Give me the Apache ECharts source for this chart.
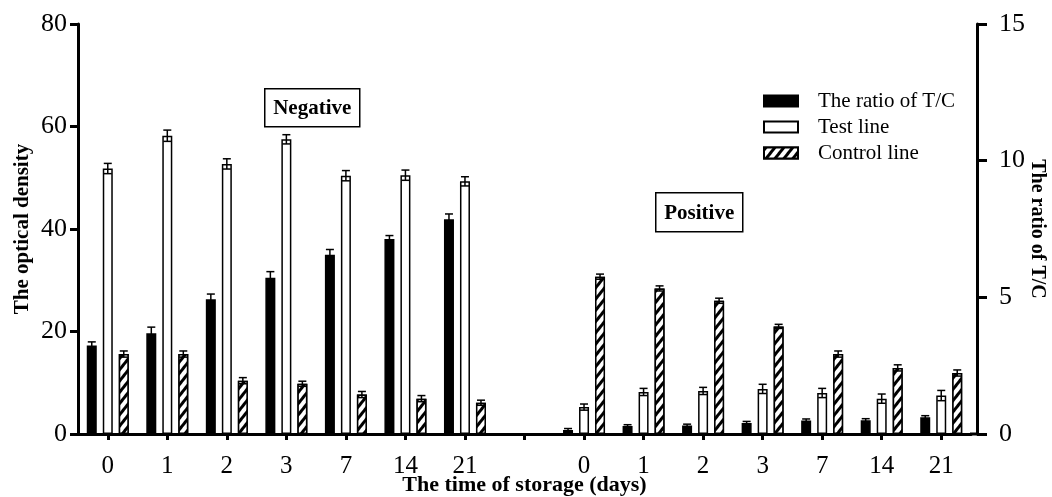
<!DOCTYPE html>
<html>
<head>
<meta charset="utf-8">
<script src="https://cdn.jsdelivr.net/npm/echarts@6/dist/echarts.min.js"></script>
<style>
  html, body { margin: 0; padding: 0; background: #fff; }
  #chart { width: 1052px; height: 497px; }
</style>
</head>
<body>
<div id="chart"></div>
<script>
const categories = ['0', '1', '2', '3', '7', '14', '21', '', '0', '1', '2', '3', '7', '14', '21'];

const ratioNeg = [3.24, 3.69, 4.93, 5.72, 6.56, 7.13, 7.86];
const ratioNegErr = [0.13, 0.22, 0.19, 0.22, 0.19, 0.13, 0.19];
const ratioPos = [0.15, 0.29, 0.31, 0.40, 0.49, 0.50, 0.61];
const ratioPosErr = [0.05, 0.05, 0.05, 0.06, 0.06, 0.06, 0.06];

const testNeg = [51.8, 58.2, 52.7, 57.5, 50.4, 50.5, 49.3];
const testNegErr = [1.0, 1.1, 1.0, 0.9, 1.0, 1.0, 0.9];
const testPos = [5.25, 8.2, 8.4, 8.8, 8.0, 6.9, 7.5];
const testPosErr = [0.6, 0.7, 0.7, 0.9, 0.9, 0.9, 1.0];

const controlNeg = [15.6, 15.6, 10.4, 9.8, 7.7, 6.9, 6.1];
const controlNegErr = [0.6, 0.6, 0.6, 0.5, 0.6, 0.6, 0.5];
const controlPos = [30.7, 28.4, 26.0, 21.0, 15.6, 12.9, 11.9];
const controlPosErr = [0.5, 0.5, 0.5, 0.4, 0.6, 0.6, 0.6];

const seriesNames = ['The ratio of T/C', 'Test line', 'Control line'];
const leftTicks = { min: 0, max: 80, interval: 20 };
const rightTicks = { min: 0, max: 15, interval: 5 };

function join(neg, pos) { return neg.concat([null], pos); }

const FONT = 'Liberation Serif, Times New Roman, serif';
const BAR_W = 10;
const BAR_GAP = 6;
const GRID_L = 78, GRID_R = 81, GRID_T = 24, GRID_B = 63;

function errSeries(vals, errs, yIdx, slot) {
  const data = [];
  vals.forEach((v, i) => { if (v != null) data.push([i, v, errs[i]]); });
  return {
    type: 'custom',
    yAxisIndex: yIdx,
    z: 5,
    silent: true,
    data: data,
    encode: { x: 0, y: 1 },
    renderItem: function (params, api) {
      const i = api.value(0), v = api.value(1), e = api.value(2);
      const top = api.coord([i, v + e]);
      const bot = api.coord([i, v - e]);
      const x = top[0] + slot * (BAR_W + BAR_GAP);
      const hw = 4;
      const st = { stroke: '#000', lineWidth: 1.5 };
      return {
        type: 'group',
        children: [
          { type: 'line', shape: { x1: x, y1: top[1], x2: x, y2: bot[1] }, style: st },
          { type: 'line', shape: { x1: x - hw, y1: top[1], x2: x + hw, y2: top[1] }, style: st },
          { type: 'line', shape: { x1: x - hw, y1: bot[1], x2: x + hw, y2: bot[1] }, style: st }
        ]
      };
    }
  };
}

const ratioAll = join(ratioNeg, ratioPos);
const testAll = join(testNeg, testPos);
const controlAll = join(controlNeg, controlPos);

const chart = echarts.init(document.getElementById('chart'), null, { renderer: 'canvas' });

const labelBox = (txt, left, top, w, h) => ({
  type: 'group', left: left, top: top,
  children: [
    { type: 'rect', shape: { x: 0, y: 0, width: w, height: h },
      style: { fill: '#fff', stroke: '#000', lineWidth: 1.5 } },
    { type: 'text', x: w / 2, y: h / 2 + 1,
      style: { text: txt, fill: '#000', font: 'bold 21px ' + FONT, align: 'center', verticalAlign: 'middle' } }
  ]
});

chart.setOption({
  backgroundColor: '#fff',
  animation: false,
  grid: { left: GRID_L, right: GRID_R, top: GRID_T, bottom: GRID_B, containLabel: false, outerBoundsMode: 'none' },
  legend: {
    orient: 'vertical',
    left: 763, top: 90,
    padding: 0,
    itemWidth: 34, itemHeight: 11,
    itemGap: 4,
    icon: 'rect',
    data: seriesNames,
    textStyle: { fontFamily: FONT, fontSize: 21, color: '#000', lineHeight: 22, padding: [0, 0, 0, 15] }
  },
  xAxis: {
    type: 'category',
    data: categories,
    name: 'The time of storage (days)',
    nameLocation: 'middle',
    nameMoveOverlap: false,
    nameGap: 40,
    nameTextStyle: { fontFamily: FONT, fontWeight: 'bold', fontSize: 22, color: '#000' },
    axisLine: { lineStyle: { color: '#000', width: 3 } },
    axisTick: { show: true, alignWithLabel: true, interval: 0, length: 6, lineStyle: { color: '#000', width: 3 } },
    axisLabel: { interval: 0, fontFamily: FONT, fontSize: 25, color: '#000', margin: 20 },
    splitLine: { show: false }
  },
  yAxis: [
    {
      type: 'value', position: 'left',
      min: leftTicks.min, max: leftTicks.max, interval: leftTicks.interval,
      name: 'The optical density',
      nameLocation: 'middle', nameGap: 45, nameRotate: 90,
      nameMoveOverlap: false,
      nameTextStyle: { fontFamily: FONT, fontWeight: 'bold', fontSize: 21, color: '#000' },
      axisLine: { show: true, lineStyle: { color: '#000', width: 3 } },
      axisTick: { show: true, length: 8, lineStyle: { color: '#000', width: 3 } },
      axisLabel: { fontFamily: FONT, fontSize: 26, color: '#000', margin: 11 },
      splitLine: { show: false }
    },
    {
      type: 'value', position: 'right', offset: 6,
      min: rightTicks.min, max: rightTicks.max, interval: rightTicks.interval,
      name: 'The ratio of T/C',
      nameLocation: 'middle', nameGap: 50, nameRotate: -90,
      nameMoveOverlap: false,
      nameTextStyle: { fontFamily: FONT, fontWeight: 'bold', fontSize: 20, color: '#000' },
      axisLine: { show: true, lineStyle: { color: '#000', width: 3 } },
      axisTick: { show: true, length: 10, lineStyle: { color: '#000', width: 3 } },
      axisLabel: { fontFamily: FONT, fontSize: 26, color: '#000', margin: 22 },
      splitLine: { show: false }
    }
  ],
  graphic: [
    labelBox('Negative', 264, 88, 95, 38),
    labelBox('Positive', 655, 192, 87, 39),
    { type: 'line', shape: { x1: 1052 - GRID_R - 1, y1: 497 - GRID_B, x2: 1052 - GRID_R + 7, y2: 497 - GRID_B },
      style: { stroke: '#000', lineWidth: 3 } }
  ],
  series: [
    {
      name: seriesNames[0], type: 'bar', yAxisIndex: 1,
      data: ratioAll, barWidth: BAR_W, barGap: (BAR_GAP / BAR_W * 100) + '%',
      itemStyle: { color: '#000', borderColor: '#000', borderWidth: 1.5 }
    },
    {
      name: seriesNames[1], type: 'bar', yAxisIndex: 0,
      data: testAll, barWidth: BAR_W,
      itemStyle: { color: '#fff', borderColor: '#000', borderWidth: 1.5 }
    },
    {
      name: seriesNames[2], type: 'bar', yAxisIndex: 0,
      data: controlAll, barWidth: BAR_W,
      itemStyle: {
        color: '#fff', borderColor: '#000', borderWidth: 1.5,
        decal: {
          symbol: 'rect', symbolSize: 1,
          color: '#000', backgroundColor: '#fff',
          dashArrayX: [1, 0], dashArrayY: [3, 3.5],
          rotation: -0.9
        }
      }
    },
    errSeries(ratioAll, join(ratioNegErr, ratioPosErr), 1, -1),
    errSeries(testAll, join(testNegErr, testPosErr), 0, 0),
    errSeries(controlAll, join(controlNegErr, controlPosErr), 0, 1)
  ]
});
</script>
</body>
</html>
